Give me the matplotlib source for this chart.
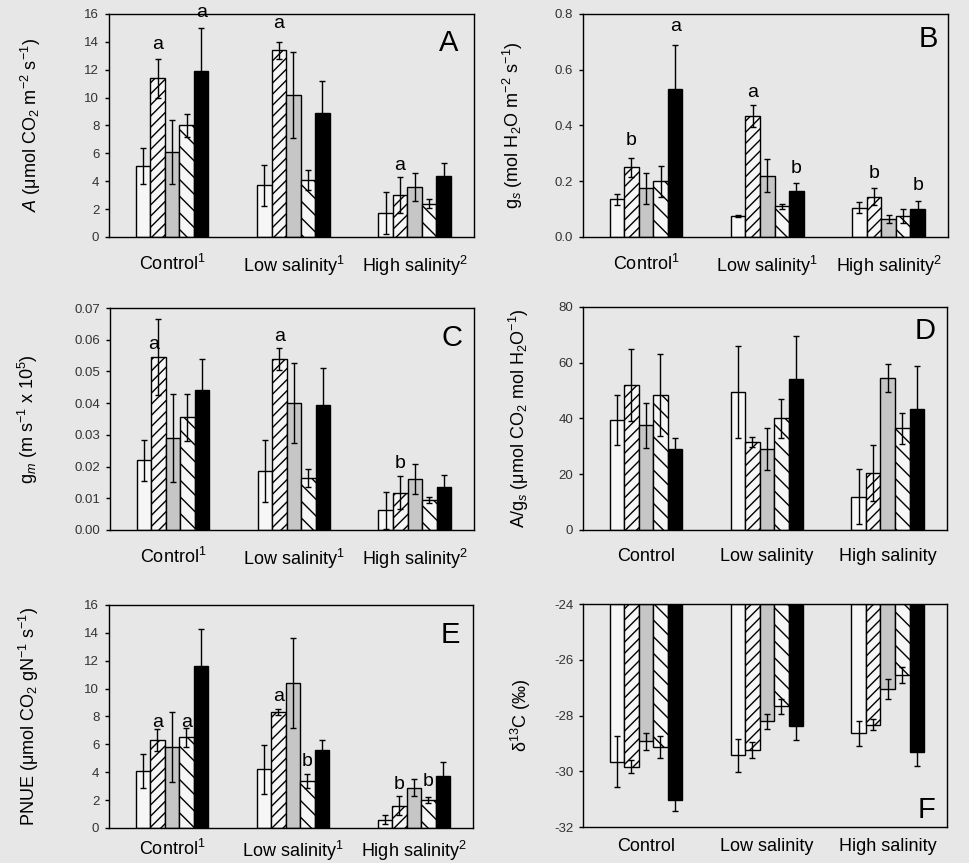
import numpy as np
import matplotlib
matplotlib.use('Agg')
import matplotlib.pyplot as plt

plt.rcParams['font.family'] = ['Liberation Sans', 'DejaVu Sans']
plt.rcParams['mathtext.fontset'] = 'custom'
plt.rcParams['mathtext.rm'] = 'Liberation Sans'
plt.rcParams['mathtext.it'] = 'Liberation Sans:italic'
plt.rcParams['hatch.linewidth'] = 1.0

# groups and treatments
groups_sup = ['Control$^1$', 'Low salinity$^1$', 'High salinity$^2$']
groups = ['Control', 'Low salinity', 'High salinity']
fills = ['#f6f6f6', '#f6f6f6', '#c6c6c6', '#f6f6f6', 'black']
hatches = ['', '///', '', '\\\\', '']

# A: net assimilation (rows = Control, Low, High; cols = 5 treatments)
a_vals = [[5.1, 11.4, 6.1, 8.0, 11.9],
          [3.7, 13.4, 10.2, 4.1, 8.9],
          [1.7, 3.0, 3.6, 2.4, 4.4]]
a_errs = [[1.3, 1.4, 2.3, 0.8, 3.1],
          [1.5, 0.6, 3.1, 0.7, 2.3],
          [1.5, 1.3, 1.0, 0.3, 0.9]]
a_letters = [(0, 1, 13.8, 'a'), (0, 4, 16.1, 'a'), (1, 1, 15.3, 'a'), (2, 1, 5.1, 'a')]

# B: stomatal conductance
b_vals = [[0.135, 0.25, 0.175, 0.20, 0.53],
          [0.075, 0.435, 0.22, 0.11, 0.165],
          [0.105, 0.145, 0.065, 0.075, 0.10]]
b_errs = [[0.02, 0.035, 0.055, 0.055, 0.16],
          [0.005, 0.04, 0.06, 0.01, 0.03],
          [0.02, 0.03, 0.015, 0.025, 0.03]]
b_letters = [(0, 1, 0.347, 'b'), (0, 4, 0.755, 'a'), (1, 1, 0.52, 'a'),
             (1, 4, 0.245, 'b'), (2, 1, 0.227, 'b'), (2, 4, 0.186, 'b')]

# C: mesophyll conductance
c_vals = [[0.022, 0.0545, 0.029, 0.0355, 0.044],
          [0.0185, 0.054, 0.040, 0.0165, 0.0395],
          [0.0062, 0.0118, 0.016, 0.0095, 0.0135]]
c_errs = [[0.0065, 0.012, 0.014, 0.0075, 0.010],
          [0.0098, 0.0035, 0.0125, 0.0028, 0.0115],
          [0.0058, 0.0052, 0.0048, 0.001, 0.0037]]
c_letters = [(0, 0.65, 0.0584, 'a'), (1, 1, 0.061, 'a'), (2, 1, 0.021, 'b')]

# D: intrinsic water use efficiency
d_vals = [[39.5, 52, 37.5, 48.5, 29],
          [49.5, 31.5, 29, 40, 54],
          [12, 20.5, 54.5, 36.5, 43.5]]
d_errs = [[9, 13, 8, 14.7, 4],
          [16.5, 1.8, 7.5, 7, 15.5],
          [10, 10, 5, 5.5, 15.5]]

# E: PNUE
e_vals = [[4.1, 6.3, 5.8, 6.5, 11.6],
          [4.2, 8.3, 10.4, 3.4, 5.6],
          [0.6, 1.6, 2.9, 2.0, 3.7]]
e_errs = [[1.2, 0.8, 2.5, 0.7, 2.7],
          [1.75, 0.2, 3.25, 0.5, 0.7],
          [0.35, 0.7, 0.6, 0.2, 1.0]]
e_letters = [(0, 1, 7.6, 'a'), (0, 3, 7.6, 'a'), (1, 1, 9.4, 'a'), (1, 3, 4.8, 'b'),
             (2, 1, 3.1, 'b'), (2, 3, 3.35, 'b')]

# F: delta 13C
f_vals = [[-29.65, -29.83, -28.93, -29.13, -31.02],
          [-29.43, -29.25, -28.21, -27.67, -28.39],
          [-28.63, -28.33, -27.04, -26.54, -29.32]]
f_errs = [[0.93, 0.25, 0.3, 0.39, 0.42],
          [0.6, 0.29, 0.27, 0.28, 0.48],
          [0.45, 0.2, 0.36, 0.28, 0.48]]

bar_w = 0.12
offsets = (np.arange(5) - 2) * bar_w
bg = '#e7e7e7'

fig = plt.figure(figsize=(9.7, 8.63), dpi=100, facecolor=bg)


def draw_panel(rect, vals, errs, letters, ylim, yticks, ytl, ylabel, xlabels,
               tag, tag_pos, ylab_x, xpad, base=0.0):
    ax = fig.add_axes(rect)
    ax.set_facecolor(bg)
    vals = np.array(vals)
    errs = np.array(errs)
    for g in range(3):
        for t in range(5):
            x = g + offsets[t]
            ax.bar(x, vals[g, t] - base, bottom=base, width=bar_w, color=fills[t],
                   edgecolor='black', linewidth=1.0, hatch=hatches[t], zorder=2)
        ax.errorbar(g + offsets, vals[g], yerr=errs[g], fmt='none', ecolor='black',
                    elinewidth=1.0, capsize=2.5, capthick=1.0, zorder=3)
    for g, t, y, s in letters:
        ax.text(g + (t - 2) * bar_w, y, s, ha='center', va='center', fontsize=14,
                clip_on=False, zorder=4)
    ax.set_xlim(-0.52, 2.49)
    ax.set_ylim(*ylim)
    ax.set_yticks(yticks)
    ax.set_yticklabels(ytl, fontsize=9.5, color='#333333')
    ax.set_xticks([0, 1, 2])
    ax.set_xticklabels(xlabels, fontsize=13)
    ax.tick_params(axis='x', length=0, pad=xpad)
    ax.tick_params(axis='y', length=3, width=1, direction='out', pad=4)
    for sp in ax.spines.values():
        sp.set_linewidth(1.0)
    ax.set_ylabel(ylabel, fontsize=13)
    ax.yaxis.set_label_coords(ylab_x, 0.5)
    ax.text(tag_pos[0], tag_pos[1], tag, transform=ax.transAxes, fontsize=21,
            ha='center', va='center')
    return ax


draw_panel([0.1124, 0.7254, 0.3763, 0.2584], a_vals, a_errs, a_letters,
           (0, 16), np.arange(0, 17, 2), [str(v) for v in range(0, 17, 2)],
           '$\\mathit{A}$ (μmol CO$_2$ m$^{-2}$ s$^{-1}$)', groups_sup,
           'A', (0.93, 0.87), -0.18, 12)

draw_panel([0.601, 0.7254, 0.3763, 0.2584], b_vals, b_errs, b_letters,
           (0, 0.8), np.arange(0, 0.81, 0.2), ['0.0', '0.2', '0.4', '0.6', '0.8'],
           'g$_s$ (mol H$_2$O m$^{-2}$ s$^{-1}$)', groups_sup,
           'B', (0.945, 0.89), -0.158, 12)

draw_panel([0.1134, 0.3859, 0.3753, 0.2572], c_vals, c_errs, c_letters,
           (0, 0.07), np.arange(0, 0.071, 0.01),
           ['0.00', '0.01', '0.02', '0.03', '0.04', '0.05', '0.06', '0.07'],
           'g$_m$ (m s$^{-1}$ x 10$^5$)', groups_sup,
           'C', (0.94, 0.865), -0.192, 12)

draw_panel([0.601, 0.3859, 0.3753, 0.2584], d_vals, d_errs, [],
           (0, 80), np.arange(0, 81, 20), ['0', '20', '40', '60', '80'],
           'A/g$_s$ (μmol CO$_2$ mol H$_2$O$^{-1}$)', groups,
           'D', (0.94, 0.89), -0.142, 13)

draw_panel([0.1124, 0.0406, 0.3753, 0.2584], e_vals, e_errs, e_letters,
           (0, 16), np.arange(0, 17, 2), [str(v) for v in range(0, 17, 2)],
           'PNUE (μmol CO$_2$ gN$^{-1}$ s$^{-1}$)', groups_sup,
           'E', (0.937, 0.865), -0.187, 8)

draw_panel([0.601, 0.0417, 0.3753, 0.2584], f_vals, f_errs, [],
           (-32, -24), np.arange(-32, -23, 2), ['-32', '-30', '-28', '-26', '-24'],
           'δ$^{13}$C (‰)', groups,
           'F', (0.945, 0.076), -0.138, 8, base=-24)

fig.savefig('out.png', dpi=100, facecolor=bg)
